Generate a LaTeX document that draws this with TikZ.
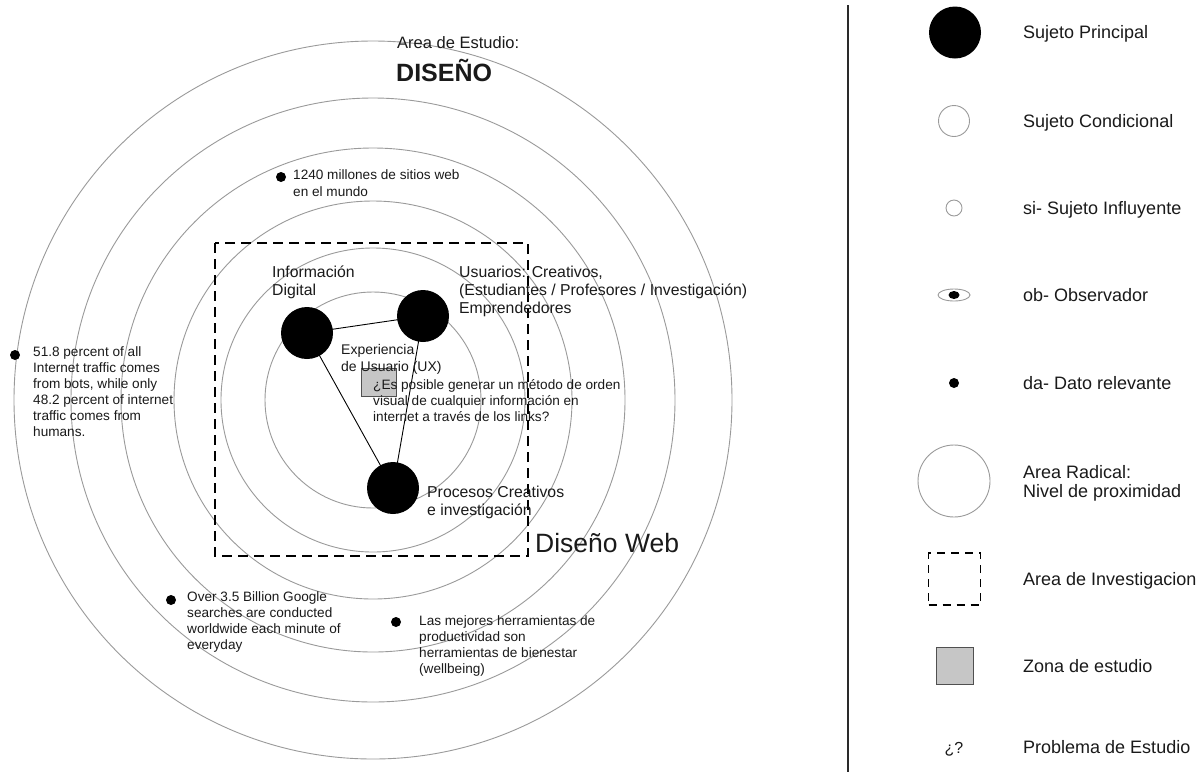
\documentclass[tikz,border=0pt]{standalone}
\usepackage{fontspec}
\setmainfont{Liberation Sans}
\usetikzlibrary{shapes.geometric}
\definecolor{ringgray}{HTML}{9A9A9A}
\definecolor{zonegray}{HTML}{C6C6C6}
\definecolor{zoneedge}{HTML}{505050}
\definecolor{sepgray}{HTML}{2A2A2A}
\definecolor{txt}{HTML}{1A1A1A}
\tikzset{
  ring/.style={draw=ringgray, line width=0.9pt},
  bigdot/.style={circle, fill=black, inner sep=0pt, minimum size=52pt},
  datadot/.style={circle, fill=black, inner sep=0pt, minimum size=10pt},
  edge/.style={draw=black, line width=0.9pt},
  lbl/.style={anchor=base west, inner sep=0pt, align=left, text=txt, font=\fontsize{15.8}{18}\selectfont},
  smalllbl/.style={anchor=base west, inner sep=0pt, align=left, text=txt, font=\fontsize{13.6}{16}\selectfont},
  leglbl/.style={anchor=base west, inner sep=0pt, align=left, text=txt, font=\fontsize{18}{19}\selectfont},
  invbox/.style={draw=black, dash pattern=on 10pt off 6pt, line width=1.7pt},
  zonebox/.style={draw=zoneedge, fill=zonegray, line width=0.9pt},
}
\begin{document}
\begin{tikzpicture}[x=1pt, y=-1pt]
\useasboundingbox (0,0) rectangle (1204,772);
\fill[white] (0,0) rectangle (1204,772);

% concentric rings
\coordinate (ctr) at (373,400);
\foreach \r in {108,152,199,252,302,359}{
  \draw[ring] (ctr) circle [radius=\r pt];
}

% research area
\draw[invbox] (215,243) rectangle (528,556);

% study zone
\node[zonebox, minimum width=35pt, minimum height=28pt, inner sep=0pt] (zona) at (378.5,382) {};

% main subjects
\node[bigdot] (info) at (307,333) {};
\node[bigdot] (usr) at (423,316) {};
\node[bigdot] (proc) at (393,488) {};
\draw[edge] (info.center) -- (usr.center) -- (proc.center) -- cycle;

% labels (base = baseline of last line)
\node[lbl] (tinfo) at (272,295) {Información\\Digital};
\node[lbl] (tusr) at (459,313) {Usuarios: Creativos,\\(Estudiantes / Profesores / Investigación)\\Emprendedores};
\node[lbl] (tproc) at (427,515) {Procesos Creativos\\e investigación};
\node[smalllbl, font=\fontsize{14}{16.5}\selectfont] (tux) at (341,371) {Experiencia\\de Usuario (UX)};
\node[smalllbl] (tq) at (373,421.5) {¿Es posible generar un método de orden\\visual de cualquier información en\\internet a través de los links?};

\node[anchor=base west, inner sep=0pt, text=txt, font=\fontsize{16.5}{18}\selectfont] (tarea) at (397,48) {Area de Estudio:};
\node[anchor=base west, inner sep=0pt, text=txt, font=\fontsize{25}{30}\selectfont\bfseries] (tdis) at (396,81) {DISEÑO};
\node[anchor=base west, inner sep=0pt, text=txt, font=\fontsize{26.5}{30}\selectfont] (tweb) at (535,552) {Diseño Web};

% relevant data
\node[datadot] (d1) at (281,177) {};
\node[smalllbl, font=\fontsize{13.6}{17}\selectfont] (t1) at (293,196.5) {1240 millones de sitios web\\en el mundo};
\node[datadot] (d2) at (15,355) {};
\node[smalllbl] (t2) at (33,436.5) {51.8 percent of all\\Internet traffic comes\\from bots, while only\\48.2 percent of internet\\traffic comes from\\humans.};
\node[datadot] (d3) at (171,600) {};
\node[smalllbl] (t3) at (187,649.5) {Over 3.5 Billion Google\\searches are conducted\\worldwide each minute of\\everyday};
\node[datadot] (d4) at (396,622) {};
\node[smalllbl] (t4) at (419,673.5) {Las mejores herramientas de\\productividad son\\herramientas de bienestar\\(wellbeing)};

% separator
\coordinate (septop) at (848,5);
\coordinate (sepbot) at (848,772);
\draw[sepgray, line width=1.3pt] (septop) -- (sepbot);

% legend
\node[bigdot] (l1) at (955,32.5) {};
\node[leglbl] (lt1) at (1023,38.5) {Sujeto Principal};
\node[circle, draw=ringgray, line width=0.9pt, minimum size=31pt, inner sep=0pt] (l2) at (954,121) {};
\node[leglbl] (lt2) at (1023,127.5) {Sujeto Condicional};
\node[circle, draw=ringgray, line width=0.9pt, minimum size=16pt, inner sep=0pt] (l3) at (954,208) {};
\node[leglbl] (lt3) at (1023,214.5) {si- Sujeto Influyente};
\node[ellipse, draw=ringgray, line width=0.9pt, minimum width=32pt, minimum height=12pt, inner sep=0pt] (l4) at (954,295) {};
\node[ellipse, fill=black, minimum width=11pt, minimum height=8pt, inner sep=0pt] (l4b) at (l4.center) {};
\node[leglbl] (lt4) at (1023,301.5) {ob- Observador};
\node[datadot] (l5) at (954,383) {};
\node[leglbl] (lt5) at (1023,389.5) {da- Dato relevante};
\node[circle, draw=ringgray, line width=0.9pt, minimum size=72pt, inner sep=0pt] (l6) at (954,481) {};
\node[leglbl] (lt6) at (1023,497.5) {Area Radical:\\Nivel de proximidad};
\node[draw=black, dash pattern=on 8pt off 6pt, line width=1.5pt, minimum size=52pt, inner sep=0pt] (l7) at (954.5,579) {};
\node[leglbl] (lt7) at (1023,585.5) {Area de Investigacion};
\node[zonebox, minimum size=37pt, inner sep=0pt] (l8) at (954.5,666) {};
\node[leglbl] (lt8) at (1023,672.5) {Zona de estudio};
\node[anchor=base, inner sep=0pt, text=txt, font=\fontsize{16}{19}\selectfont] (l9) at (954,753.5) {¿?};
\node[leglbl] (lt9) at (1023,753.5) {Problema de Estudio};
\end{tikzpicture}
\end{document}
